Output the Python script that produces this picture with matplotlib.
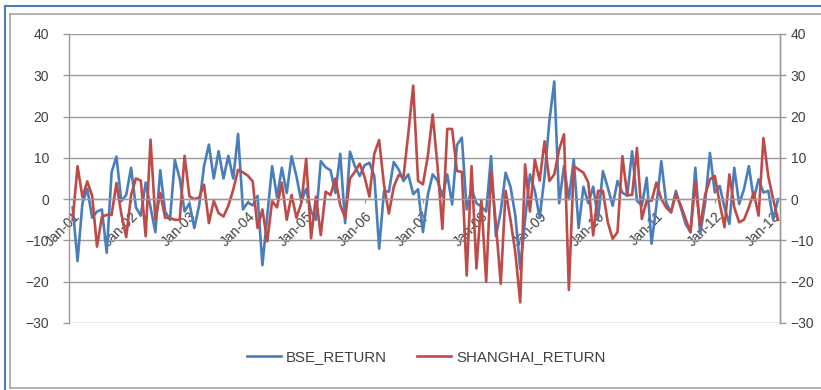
import matplotlib
matplotlib.use("Agg")
import matplotlib.pyplot as plt
from matplotlib.lines import Line2D

plt.rcParams['font.family'] = ['Liberation Sans', 'DejaVu Sans']

# Monthly returns (%), Jan-2001 .. Feb-2013
bse_return = [
    -2, -15, -1, 2.5, -4.5, -3, -2.5, -13, 6.5, 10.3, -0.5, 1,
    7.6, -2, -4, 4, -2, -8, 7, -3, -5, 9.5, 5, -3,
    -1, -7, -1.5, 8, 13.2, 5, 11.6, 5, 10.5, 5, 15.8, -2.5,
    -0.8, -1.5, 0.8, -16, -4, 8, 0.5, 7.6, 1.5, 10.4, 5.5, -0.5,
    2.5, -3, -5, 9.2, 7.7, 7, 1.5, 11, -5.8, 11.5, 8, 5.6,
    8.2, 8.8, 5.6, -12, 2, 1.8, 9, 7.2, 4.4, 6, 1.2, 2.4,
    -8, 1, 6, 4.5, 0.7, 6, -1.3, 13.1, 14.9, -2.5, 2.5, -1,
    -1.8, -3, 10.4, -9, -3, 6.4, 3, -4, -17, -5, 6, 2,
    -4.5, 5.5, 19, 28.5, -1, 8, 0, 9.6, -7, 3, -1, 3,
    -4.8, 6.8, 2.8, -1.6, 4.4, 1.6, 0.8, 11.6, -0.4, -1.6, 5.2, -10.8,
    -1.5, 9.2, -0.8, -3.2, 2, -2, -6, -8, 7.6, -8.4, -1, 11.2,
    1.6, 3.2, -2, -6, 7.6, -1.2, 2.4, 8, 0, 4.8, 1.6, 2,
    -5, 0,
]

shanghai_return = [
    -5, 8, 0.5, 4.3, 0.8, -11.5, -4.3, -3.8, -3.8, 3.9, -3.6, -9.2,
    1, 5, 4.5, -9, 14.4, -5, 1.5, -4.5, -4.6, -5, -5, 10.5,
    0.7, 0, 0.4, 3.5, -5.8, -0.4, -3.4, -4.2, -1.6, 2.3, 7.1, 6.5,
    5.7, 4.3, -7, -2.5, -10.2, -0.5, -2, 4, -5, 1, -4.5, -1,
    9.8, -9.5, 0.6, -8.7, 1.8, 1, 5, -1.5, -4.5, 5, 6.6, 8.6,
    5.4, 0.6, 11, 14.3, 3.4, -3.5, 3, 5.8, 5.4, 16, 27.5, 4.4,
    3.6, 10.4, 20.5, 8, -7.2, 17, 17, 6.8, 6.6, -18.5, 8, -16.8,
    -0.2, -20, 6.6, -6, -20.5, 2, -5, -13, -25, 8.4, -3, 9.6,
    4.5, 14, 4.4, 6, 12, 15.7, -22, 8, 7.2, 6.4, 4, -8.8,
    2, 2, -5.6, -9.6, -8, 10.4, 1, 1, 12.4, -4.8, -0.4, -0.4,
    4, 0, -2, -3.2, 1.2, -1.5, -4.8, -8, 4, -6.8, 1, 4.8,
    5.6, -1, -6.8, 6, -2, -5.6, -5, -2, 1.6, -4, 14.8, 5.5,
    0, -5,
]

year_labels = ['Jan-01', 'Jan-02', 'Jan-03', 'Jan-04', 'Jan-05', 'Jan-06', 'Jan-07',
               'Jan-08', 'Jan-09', 'Jan-10', 'Jan-11', 'Jan-12', 'Jan-13']
y_ticks = [-30, -20, -10, 0, 10, 20, 30, 40]

BLUE = '#4A7EBB'
RED = '#BE4B48'
GRID = '#9A9A9A'
TEXT = '#404040'

fig = plt.figure(figsize=(8.21, 3.90), dpi=100)
ax = fig.add_axes([68.7 / 821, 67 / 390, (779.5 - 68.7) / 821, (323 - 34) / 390])

months = list(range(len(bse_return)))
ax.plot(months, bse_return, color=BLUE, lw=1.9, label='BSE_RETURN', solid_joinstyle='round')
ax.plot(months, shanghai_return, color=RED, lw=1.9, label='SHANGHAI_RETURN', solid_joinstyle='round')

ax.set_xlim(-0.82, 145.3)
ax.set_ylim(-30, 40)
ax.set_yticks(y_ticks)
ax.yaxis.grid(True, color=GRID, lw=1.0)
ax.set_axisbelow(True)

ax.spines['top'].set_visible(False)
for side in ['left', 'right']:
    ax.spines[side].set_color(GRID)
    ax.spines[side].set_linewidth(1.0)
ax.spines['bottom'].set_position(('data', 0))
ax.spines['bottom'].set_color(GRID)
ax.spines['bottom'].set_linewidth(1.0)

ax.tick_params(axis='y', left=True, right=False, labelleft=True, labelright=False,
               length=4, width=1.0, color=GRID, labelsize=10, labelcolor=TEXT, pad=10)

# secondary value axis on the right with the same scale
ax2 = ax.twinx()
ax2.set_ylim(-30, 40)
ax2.set_yticks(y_ticks)
for side in ['top', 'left', 'bottom']:
    ax2.spines[side].set_visible(False)
ax2.spines['right'].set_color(GRID)
ax2.spines['right'].set_linewidth(1.0)
ax2.tick_params(axis='y', length=4, width=1.0, color=GRID, labelsize=10, labelcolor=TEXT, pad=4)
ax2.set_zorder(ax.get_zorder() - 1)
ax.patch.set_visible(False)

tick_pos = [12 * k for k in range(len(year_labels))]
ax.set_xticks(tick_pos)
ax.set_xticklabels(year_labels, rotation=45, ha='right', va='top', rotation_mode='anchor',
                   fontsize=10, color=TEXT)
ax.tick_params(axis='x', length=3, width=1.0, color=GRID, pad=4)

leg = fig.legend(loc='center', bbox_to_anchor=(0.519, 1 - 357 / 390), ncol=2, frameon=False,
                 fontsize=10.8, handlelength=2.3, columnspacing=2.0, handletextpad=0.3)
for t in leg.get_texts():
    t.set_color(TEXT)

# chart frame lines
fig.add_artist(Line2D([4.5 / 821, 4.5 / 821], [0, 1 - 6 / 390], color=BLUE, lw=1.5,
                      transform=fig.transFigure))
fig.add_artist(Line2D([4.5 / 821, 1], [1 - 6 / 390, 1 - 6 / 390], color=BLUE, lw=1.5,
                      transform=fig.transFigure))
fig.add_artist(Line2D([10 / 821, 10 / 821], [2 / 390, 1 - 14 / 390], color='#A6A6A6', lw=1.2,
                      transform=fig.transFigure))
fig.add_artist(Line2D([10 / 821, 1], [1 - 14 / 390, 1 - 14 / 390], color='#A6A6A6', lw=1.2,
                      transform=fig.transFigure))
fig.add_artist(Line2D([10 / 821, 1], [2 / 390, 2 / 390], color='#A6A6A6', lw=1.2,
                      transform=fig.transFigure))

fig.savefig('out.png', dpi=100)
